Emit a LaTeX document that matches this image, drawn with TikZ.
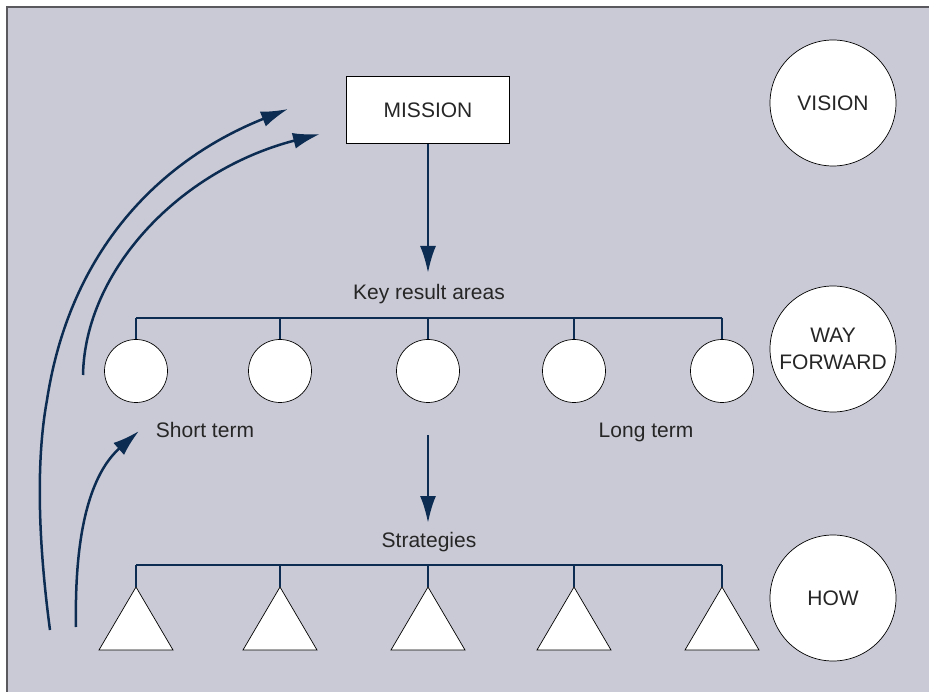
\documentclass[tikz,border=0pt]{standalone}
\usepackage{fontspec}
\setmainfont{Liberation Sans}
\usetikzlibrary{arrows.meta,shapes.geometric}
\definecolor{panel}{HTML}{CACAD6}
\definecolor{navy}{HTML}{0C2C52}
\definecolor{frame}{HTML}{5A5A5E}
\begin{document}
\begin{tikzpicture}[x=1pt,y=-1pt,
  lbl/.style={font=\fontsize{21}{27}\selectfont, text=black!85},
  flow/.style={navy, line width=2.5pt, -{Latex[length=27pt,width=16pt]}},
  bar/.style={navy, line width=2.2pt},
  bigcirc/.style={circle, draw=black, line width=0.7pt, fill=white, minimum size=126pt, inner sep=0pt, lbl},
  smallcirc/.style={circle, draw=black, line width=0.7pt, fill=white, minimum size=63pt, inner sep=0pt},
  tri/.style={draw=black, line width=0.7pt, fill=white}]
\useasboundingbox (0,0) rectangle (929,692);
% panel and its frame
\fill[panel] (7,7) rectangle (929,692);
\draw[frame, line width=1.8pt] (7,692) -- (7,7) -- (929,7);

% mission and the three right-hand circles
\node[draw=black, line width=0.7pt, fill=white, minimum width=163pt, minimum height=67pt, lbl] (mission) at (428,110) {MISSION};
\node[bigcirc] (vision) at (833,103) {VISION};
\node[bigcirc, align=center] (way) at (833,349) {WAY\\FORWARD};
\node[bigcirc] (how) at (833,598) {HOW};

% key result areas
\node[lbl, anchor=base] (kra) at (429,300) {Key result areas};
\draw[flow] (mission.south) -- (428,273);
\foreach \i/\x in {1/136,2/280,3/428,4/574,5/722} {
  \node[smallcirc] (c\i) at (\x,371) {};
  \coordinate (ct\i) at (\x,318);
  \draw[bar] (ct\i) -- (c\i.north);
}
\draw[bar] (ct1) -- (ct5);
\node[lbl, anchor=base] (short) at (205,437) {Short term};
\node[lbl, anchor=base] (long) at (646,437) {Long term};

% strategies
\node[lbl, anchor=base] (strat) at (429,547) {Strategies};
\coordinate (sfrom) at (428,435);
\draw[flow] (sfrom) -- (428,523);
\foreach \i/\x in {1/136,2/280,3/428,4/574,5/722} {
  \coordinate (tp\i) at (\x,587);
  \coordinate (tb\i) at (\x,565);
  \draw[tri] (tp\i) -- (\x+37,650) -- (\x-37,650) -- cycle;
  \draw[bar] (tb\i) -- (tp\i);
}
\draw[bar] (tb1) -- (tb5);

% feedback arrows on the left
\coordinate (a1s) at (50,630);
\coordinate (a1m) at (47,400);
\coordinate (a1e) at (288,109);
\coordinate (a2s) at (83,375);
\coordinate (a2e) at (320,134);
\coordinate (a3s) at (76,627);
\coordinate (a3e) at (139,431);
\draw[flow] (a1s) .. controls (38,540) and (36,460) .. (a1m)
  .. controls (70,250) and (160,160) .. (a1e);
\draw[flow] (a2s) .. controls (85,270) and (180,170) .. (a2e);
\draw[flow] (a3s) .. controls (74,520) and (95,470) .. (a3e);
\end{tikzpicture}
\end{document}
